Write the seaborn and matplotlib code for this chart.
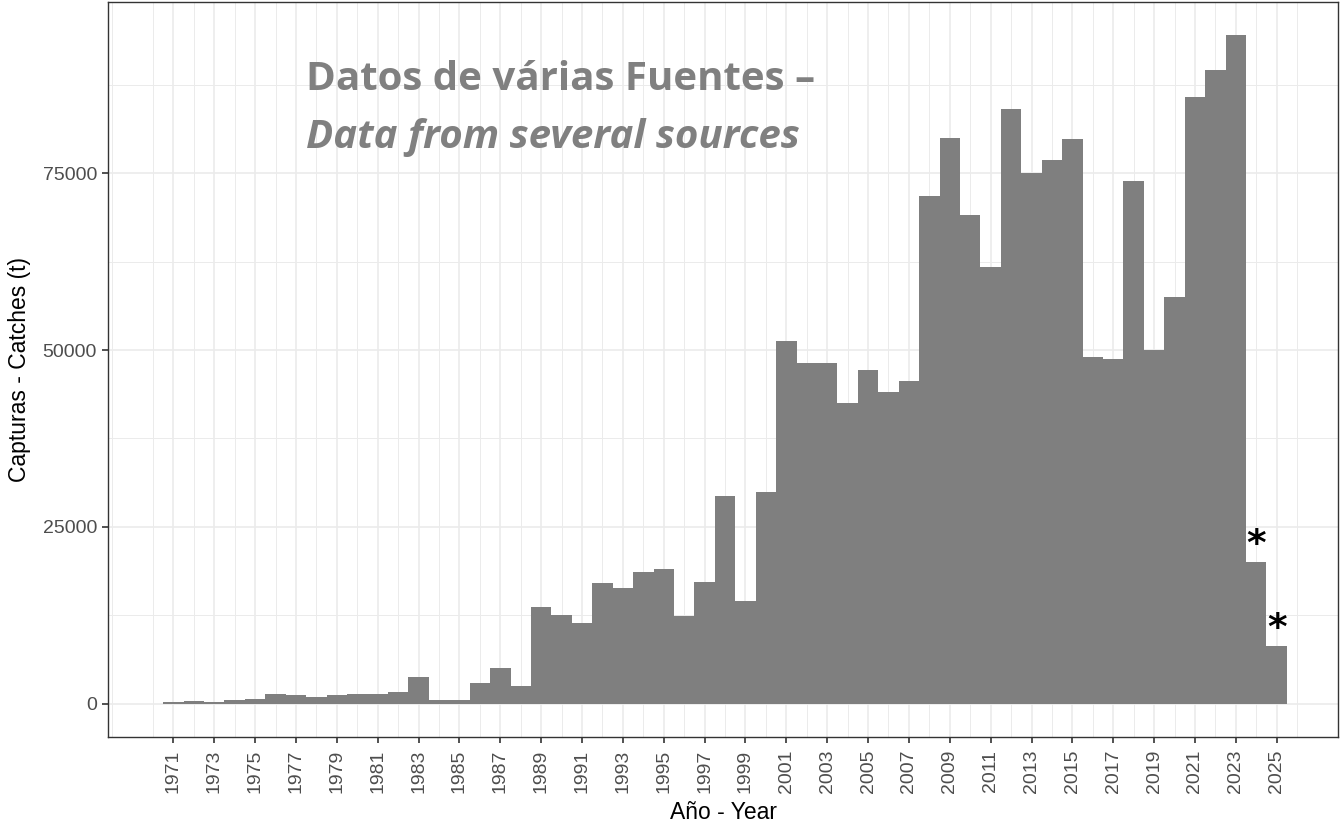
import numpy as np
import pandas as pd
import seaborn as sns
import matplotlib.pyplot as plt

# Catches per year (t)
years = list(range(1971, 2026))
catches = [200, 300, 200, 450, 700, 1350, 1200, 1000, 1250, 1300,
           1350, 1600, 3700, 550, 500, 2950, 5000, 2550, 13600, 12600,
           11400, 17000, 16350, 18650, 19000, 12450, 17250, 29400, 14450, 29950,
           51300, 48100, 48200, 42500, 47250, 44000, 45650, 71850, 80000, 69100,
           61750, 84100, 75100, 76900, 79800, 48950, 48800, 73950, 50050, 57500,
           85750, 89650, 94500, 20000, 8100]
provisional_years = [2024, 2025]

df = pd.DataFrame({"year": years, "catch": catches})

sns.set_style("white")
plt.rcParams["font.family"] = ["Liberation Sans", "DejaVu Sans"]

fig = plt.figure(figsize=(13.44, 8.27), dpi=100)
ax = fig.add_axes([108 / 1344, 90 / 827, 1230 / 1344, 735 / 827])

sns.barplot(data=df, x="year", y="catch", native_scale=True, width=1,
            color="#7f7f7f", saturation=1, linewidth=0, errorbar=None, ax=ax, zorder=2)

# asterisks over provisional years
for yr in provisional_years:
    val = catches[years.index(yr)]
    ax.text(yr, val + 1000, "*", ha="center", va="baseline", fontsize=27,
            fontweight="bold", color="black", family="DejaVu Sans", zorder=3)

ymax = max(catches)
ax.set_xlim(1967.8, 2028.0)
ax.set_ylim(-0.05 * ymax, 1.05 * ymax)

ax.set_xticks(range(1971, 2026, 2))
ax.set_xticks(range(1968, 2029, 2), minor=True)
ax.set_yticks([0, 25000, 50000, 75000])
ax.set_yticks([12500, 37500, 62500, 87500], minor=True)
ax.set_xticklabels([str(y) for y in range(1971, 2026, 2)], rotation=90)

ax.grid(True, which="major", color="#ebebeb", linewidth=1.2, zorder=0)
ax.grid(True, which="minor", color="#ebebeb", linewidth=0.7, zorder=0)
ax.set_axisbelow(True)

ax.tick_params(axis="both", which="major", direction="out", length=4, width=1.2,
               color="#333333", labelsize=14, labelcolor="#4d4d4d", pad=3,
               bottom=True, left=True)
ax.tick_params(axis="x", which="major", pad=5)
ax.tick_params(axis="y", which="major", pad=4)
ax.tick_params(axis="both", which="minor", length=0)
for s in ax.spines.values():
    s.set_color("#333333")
    s.set_linewidth(1)

ax.set_xlabel("Año - Year", fontsize=16.5, color="black", labelpad=6)
ax.set_ylabel("Capturas - Catches (t)", fontsize=16.5, color="black", labelpad=8)

ax.text(0.161, 0.894, "Datos de várias Fuentes –", transform=ax.transAxes,
        fontsize=29, fontweight="bold", color="#808080", family="Open Sans",
        ha="left", va="center")
ax.text(0.161, 0.816, "Data from several sources", transform=ax.transAxes,
        fontsize=29, fontweight="bold", fontstyle="italic", color="#808080",
        family="Open Sans", ha="left", va="center")

fig.savefig("out.png", dpi=100)
